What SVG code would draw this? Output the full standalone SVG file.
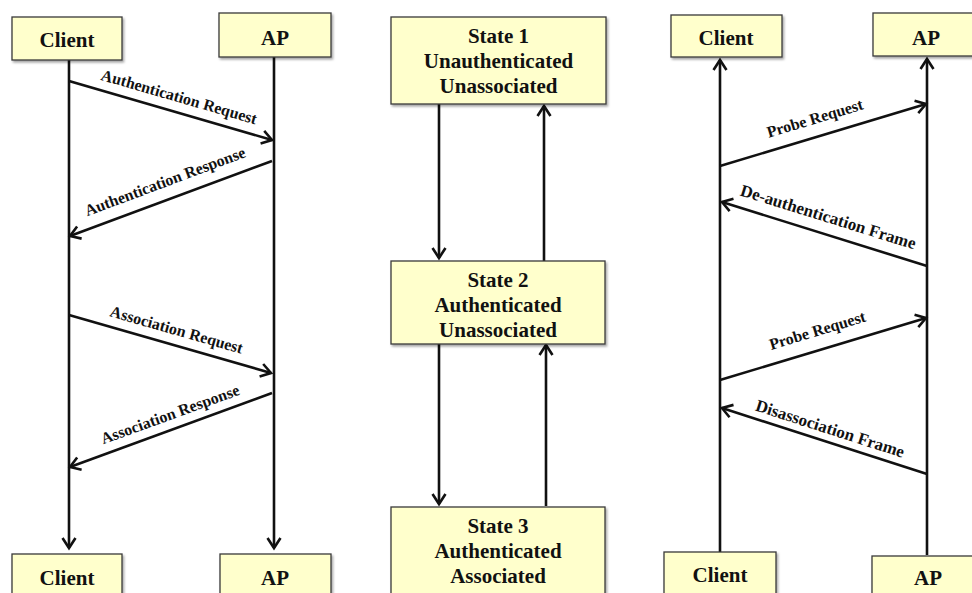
<svg xmlns="http://www.w3.org/2000/svg" width="972" height="593" viewBox="0 0 972 593">
<style>
.box{fill:#FFFFCC;stroke:#3a3a3a;stroke-width:1.3;filter:url(#sh)}
.bt{font-family:"Liberation Serif","Times New Roman",serif;font-weight:bold;font-size:21px;fill:#111;text-anchor:middle}
.lt{font-family:"Liberation Serif","Times New Roman",serif;font-weight:bold;font-size:16px;fill:#111;text-anchor:middle}
.rt{font-size:17px}
.pt{font-size:16px}
.ln{stroke:#111;stroke-width:2.6;fill:none}
.ar{marker-end:url(#ah)}
</style>
<defs>
<filter id="sh" x="-10%" y="-10%" width="130%" height="140%">
<feDropShadow dx="1.5" dy="2" stdDeviation="1.2" flood-color="#000" flood-opacity="0.35"/>
</filter>
<marker id="ah" markerUnits="userSpaceOnUse" markerWidth="20" markerHeight="20" viewBox="-12 -10 14 20" refX="0" refY="0" orient="auto">
<path d="M-10,-6.5 L0,0 L-10,6.5" fill="none" stroke="#111" stroke-width="2.6" stroke-linejoin="miter"/>
</marker>
</defs>
<rect width="972" height="593" fill="#fff"/>

<g id="connectors">
<line class="ln ar" x1="69" y1="60" x2="69" y2="548"/>
<line class="ln ar" x1="274" y1="57" x2="274" y2="548"/>
<line class="ln ar" x1="69" y1="81" x2="272" y2="140"/>
<line class="ln ar" x1="272" y1="161" x2="70" y2="236"/>
<line class="ln ar" x1="69" y1="315" x2="271" y2="373"/>
<line class="ln ar" x1="272" y1="393" x2="70" y2="467"/>
<line class="ln ar" x1="439" y1="104" x2="439" y2="258"/>
<line class="ln ar" x1="544" y1="261" x2="544" y2="106"/>
<line class="ln ar" x1="439" y1="344" x2="439" y2="504"/>
<line class="ln ar" x1="546" y1="506" x2="546" y2="345"/>
<line class="ln ar" x1="720" y1="552" x2="720" y2="60"/>
<line class="ln ar" x1="927" y1="555" x2="927" y2="59"/>
<line class="ln ar" x1="720" y1="166" x2="926" y2="104"/>
<line class="ln ar" x1="927" y1="266" x2="722" y2="202"/>
<line class="ln ar" x1="720" y1="380" x2="926" y2="318"/>
<line class="ln ar" x1="927" y1="474" x2="722" y2="408"/>
</g>

<g id="labels">
<text class="lt" transform="translate(171,110.5) rotate(16.1)" x="4" y="-10">Authentication Request</text>
<text class="lt" transform="translate(170.5,199) rotate(-20.5)" x="1" y="-13">Authentication Response</text>
<text class="lt" transform="translate(170.5,344) rotate(15.9)" x="2" y="-10">Association Request</text>
<text class="lt" transform="translate(170.5,430) rotate(-20)" x="5" y="-9.5">Association Response</text>
<text class="lt pt" transform="translate(823,135) rotate(-16.75)" x="-3" y="-13">Probe Request</text>
<text class="lt rt" transform="translate(824,234) rotate(17.26)" x="-1" y="-12">De-authentication Frame</text>
<text class="lt pt" transform="translate(823,349) rotate(-16.75)" x="0" y="-14">Probe Request</text>
<text class="lt rt" transform="translate(824,441) rotate(17.77)" x="2" y="-8">Disassociation Frame</text>
</g>

<g id="client-top-left"><rect class="box" x="12" y="17" width="110" height="43"/><text class="bt" x="67" y="47">Client</text></g>
<g id="ap-top-left"><rect class="box" x="219" y="13" width="112" height="44"/><text class="bt" x="275" y="45">AP</text></g>
<g id="client-bottom-left"><rect class="box" x="12" y="554" width="110" height="50"/><text class="bt" x="67" y="585">Client</text></g>
<g id="ap-bottom-left"><rect class="box" x="220" y="554" width="111" height="50"/><text class="bt" x="275" y="585">AP</text></g>

<g id="state1"><rect class="box" x="391" y="17" width="215" height="87"/>
<text class="bt" x="498.5" y="43">State 1</text><text class="bt" x="498.5" y="68">Unauthenticated</text><text class="bt" x="498.5" y="93">Unassociated</text></g>
<g id="state2"><rect class="box" x="391" y="261" width="214" height="83"/>
<text class="bt" x="498" y="287">State 2</text><text class="bt" x="498" y="312">Authenticated</text><text class="bt" x="498" y="337">Unassociated</text></g>
<g id="state3"><rect class="box" x="391" y="507" width="214" height="100"/>
<text class="bt" x="498" y="533">State 3</text><text class="bt" x="498" y="558">Authenticated</text><text class="bt" x="498" y="583">Associated</text></g>

<g id="client-top-right"><rect class="box" x="671" y="15" width="111" height="42"/><text class="bt" x="726" y="45">Client</text></g>
<g id="ap-top-right"><rect class="box" x="873" y="13" width="110" height="43"/><text class="bt" x="926" y="45">AP</text></g>
<g id="client-bottom-right"><rect class="box" x="664" y="552" width="112" height="50"/><text class="bt" x="720" y="582">Client</text></g>
<g id="ap-bottom-right"><rect class="box" x="872" y="556" width="110" height="50"/><text class="bt" x="928" y="585">AP</text></g>
</svg>
